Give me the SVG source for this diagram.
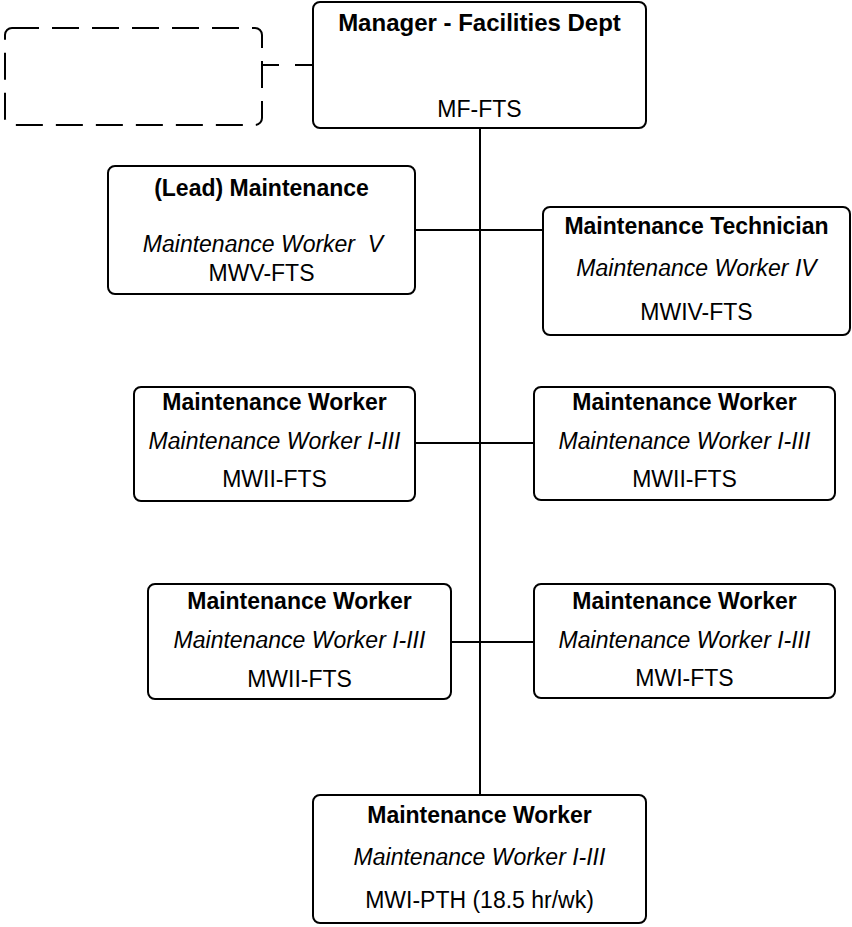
<svg xmlns="http://www.w3.org/2000/svg" width="852" height="927" viewBox="0 0 852 927">
<style>
.box{fill:#fff;stroke:#000;stroke-width:2}
.t{font-family:"Liberation Sans",Arial,sans-serif;font-size:23px;fill:#000;text-anchor:middle;white-space:pre}
.b{font-weight:bold}
.i{font-style:italic}
.ln{stroke:#000;stroke-width:2;fill:none}
</style>
<rect width="852" height="927" fill="#fff"/>
<g id="connectors">
<line class="ln" x1="480" y1="128" x2="480" y2="795"/>
<line class="ln" x1="415" y1="230" x2="543" y2="230"/>
<line class="ln" x1="415" y1="443" x2="534" y2="443"/>
<line class="ln" x1="451" y1="642" x2="534" y2="642"/>
<line class="ln" x1="262" y1="65" x2="313" y2="65" stroke-dasharray="17 16 18"/>
</g>
<g id="vacant">
<rect x="5" y="28" width="257" height="97" rx="7" class="ln" stroke-dasharray="27 13"/>
</g>
<g id="manager">
<rect class="box" x="313" y="2" width="333" height="126" rx="7"/>
<text class="t b" x="479.5" y="31" style="font-size:24px">Manager - Facilities Dept</text>
<text class="t" x="479.5" y="117">MF-FTS</text>
</g>
<g id="lead">
<rect class="box" x="108" y="166" width="307" height="128" rx="7"/>
<text class="t b" x="261.5" y="196">(Lead) Maintenance</text>
<text class="t i" x="263" y="252">Maintenance Worker  V</text>
<text class="t" x="261.5" y="281">MWV-FTS</text>
</g>
<g id="technician">
<rect class="box" x="543" y="207" width="307" height="128" rx="7"/>
<text class="t b" x="696.5" y="234">Maintenance Technician</text>
<text class="t i" x="696.5" y="276">Maintenance Worker IV</text>
<text class="t" x="696.5" y="320">MWIV-FTS</text>
</g>
<g id="worker-2l">
<rect class="box" x="134" y="387" width="281" height="114" rx="7"/>
<text class="t b" x="274.5" y="410">Maintenance Worker</text>
<text class="t i" x="274.5" y="449">Maintenance Worker I-III</text>
<text class="t" x="274.5" y="487">MWII-FTS</text>
</g>
<g id="worker-2r">
<rect class="box" x="534" y="387" width="301" height="113" rx="7"/>
<text class="t b" x="684.5" y="410">Maintenance Worker</text>
<text class="t i" x="684.5" y="449">Maintenance Worker I-III</text>
<text class="t" x="684.5" y="487">MWII-FTS</text>
</g>
<g id="worker-3l">
<rect class="box" x="148" y="584" width="303" height="115" rx="7"/>
<text class="t b" x="299.5" y="609">Maintenance Worker</text>
<text class="t i" x="299.5" y="648">Maintenance Worker I-III</text>
<text class="t" x="299.5" y="687">MWII-FTS</text>
</g>
<g id="worker-3r">
<rect class="box" x="534" y="584" width="301" height="114" rx="7"/>
<text class="t b" x="684.5" y="609">Maintenance Worker</text>
<text class="t i" x="684.5" y="648">Maintenance Worker I-III</text>
<text class="t" x="684.5" y="686">MWI-FTS</text>
</g>
<g id="worker-pt">
<rect class="box" x="313" y="795" width="333" height="128" rx="7"/>
<text class="t b" x="479.5" y="823">Maintenance Worker</text>
<text class="t i" x="479.5" y="865">Maintenance Worker I-III</text>
<text class="t" x="479.5" y="908">MWI-PTH (18.5 hr/wk)</text>
</g>
</svg>
